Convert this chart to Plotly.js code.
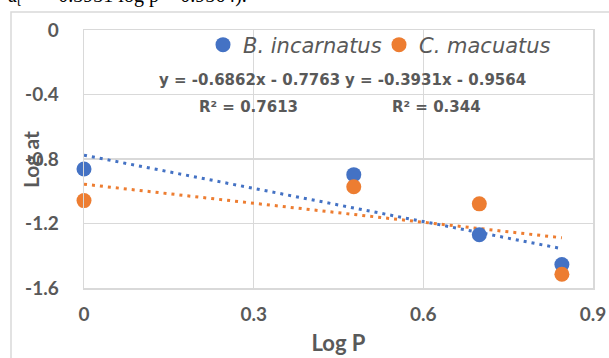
<!DOCTYPE html>
<html>
<head>
<meta charset="utf-8">
<script src="https://cdn.plot.ly/plotly-3.0.1.min.js"></script>
<style>html,body{margin:0;padding:0;background:#fff;}#chart{width:609px;height:358px;}</style>
</head>
<body>
<div id="chart"></div>
<script>
// Data
const logP = [0, 0.477, 0.699, 0.845];
const bIncarnatus = [-0.862, -0.897, -1.270, -1.455];
const cMacuatus = [-1.058, -0.972, -1.078, -1.515];
const seriesNames = ["B. incarnatus", "C. macuatus"];
const slopes = [-0.6862, -0.3931];
const intercepts = [-0.7763, -0.9564];
const equations = ["y = -0.6862x - 0.7763", "y = -0.3931x - 0.9564"];
const r2Labels = ["R² = 0.7613", "R² = 0.344"];
const xTicks = [0, 0.3, 0.6, 0.9];
const yTicks = [0, -0.4, -0.8, -1.2, -1.6];

const colors = ["#4472C4", "#ED7D31"];
const grey = "#595959";
const font = "Lato, 'Open Sans', sans-serif";
const wideFont = "'DejaVu Sans', sans-serif";

const seriesY = [bIncarnatus, cMacuatus];
const traces = [];
seriesY.forEach((ys, i) => {
  const xs = [Math.min(...logP), Math.max(...logP)];
  traces.push({
    x: xs, y: xs.map(v => slopes[i] * v + intercepts[i]),
    mode: "lines", showlegend: false, hoverinfo: "skip",
    line: {color: colors[i], width: 3, dash: "3px,5px"}
  });
});
seriesY.forEach((ys, i) => {
  traces.push({
    x: logP, y: ys, name: seriesNames[i], mode: "markers", cliponaxis: false,
    marker: {color: colors[i], size: 15}
  });
});

const L = 84, R = 16, T = 30, B = 70;
const W = 609 - L - R, H = 358 - T - B;
const px = p => (p - L) / W;          // pixel x -> paper x
const py = p => (358 - B - p) / H;    // pixel y -> paper y

const annotations = [
  {text: equations[0], x: px(157), y: py(80), xanchor: "left", yanchor: "middle"},
  {text: r2Labels[0], x: px(197), y: py(107), xanchor: "left", yanchor: "middle"},
  {text: equations[1], x: px(343), y: py(80), xanchor: "left", yanchor: "middle"},
  {text: r2Labels[1], x: px(390), y: py(107), xanchor: "left", yanchor: "middle"}
].map(a => Object.assign(a, {xref: "paper", yref: "paper", showarrow: false,
  font: {family: wideFont, size: 15, color: grey, weight: "bold"}}));

annotations.push({text: "Log at", xref: "paper", yref: "paper", x: px(30), y: py(160),
  xanchor: "center", yanchor: "middle", textangle: -90, showarrow: false,
  font: {family: font, size: 21, color: grey, weight: "bold"}});
annotations.push({text: "a<sub>t</sub> = − 0.3931 log p − 0.9564).", xref: "paper", yref: "paper",
  x: px(6), y: py(-4), xanchor: "left", yanchor: "middle", showarrow: false,
  font: {family: "'Liberation Serif', serif", size: 20, color: "#000"}});

const layout = {
  width: 609, height: 358,
  margin: {l: L, r: R, t: T, b: B},
  paper_bgcolor: "#fff", plot_bgcolor: "#fff",
  showlegend: true,
  legend: {orientation: "h", x: px(203), y: py(45), xanchor: "left", yanchor: "middle",
    entrywidth: 131, bgcolor: "rgba(0,0,0,0)",
    font: {family: wideFont, size: 21, color: grey, style: "italic"},
    itemclick: false},
  xaxis: {range: [0, 0.9], tickvals: xTicks, ticktext: xTicks.map(String),
    showgrid: true, gridcolor: "#D9D9D9", gridwidth: 1.5, zeroline: false,
    showline: true, linecolor: "#D9D9D9", linewidth: 1.5, mirror: true,
    ticks: "", ticklabelstandoff: 9,
    tickfont: {family: font, size: 19, color: grey, weight: "bold"},
    title: {text: "Log P", standoff: 11, font: {family: font, size: 22, color: grey, weight: "bold"}}},
  yaxis: {range: [-1.6, 0], tickvals: yTicks, ticktext: yTicks.map(String),
    showgrid: true, gridcolor: "#D9D9D9", gridwidth: 1.5, zeroline: false,
    showline: true, linecolor: "#D9D9D9", linewidth: 1.5, mirror: true,
    ticks: "", ticklabelstandoff: 20,
    tickfont: {family: font, size: 19, color: grey, weight: "bold"}},
  shapes: [{type: "rect", xref: "paper", yref: "paper", layer: "below",
    x0: px(11), x1: px(620), y0: py(380), y1: py(12),
    line: {color: "#D9D9D9", width: 1.5}, fillcolor: "rgba(0,0,0,0)"}],
  annotations: annotations
};

Plotly.newPlot("chart", traces, layout, {staticPlot: true, displayModeBar: false});
</script>
</body>
</html>
